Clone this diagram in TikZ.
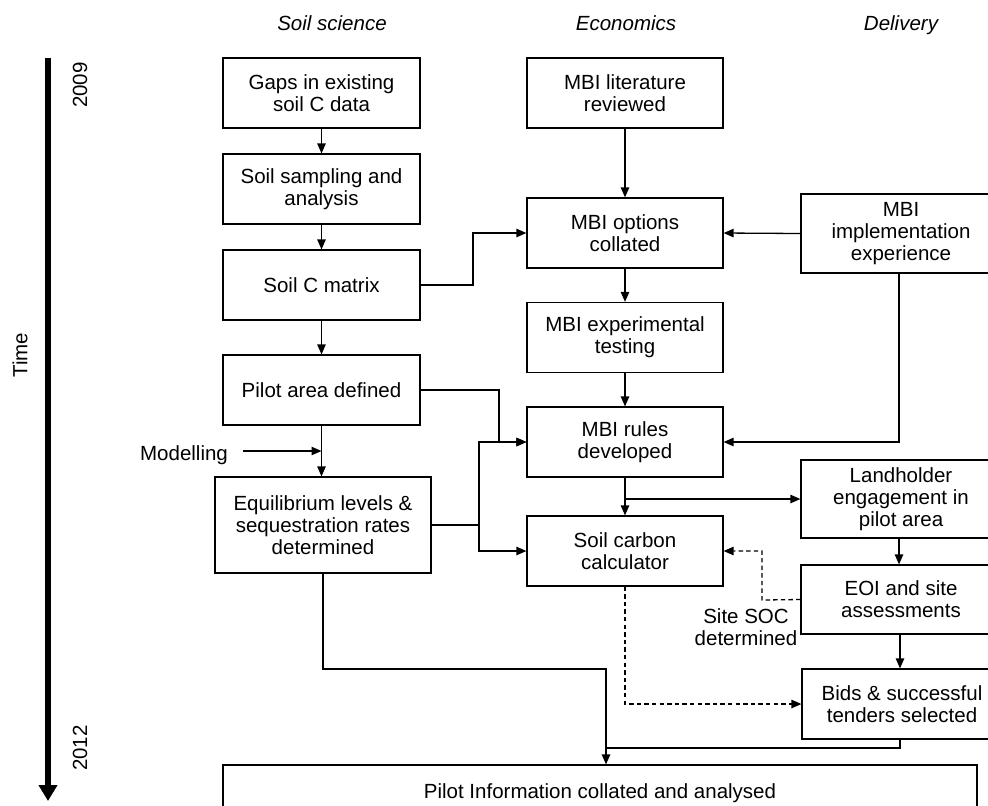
\documentclass[tikz,border=0pt]{standalone}
\usepackage{fontspec}
\setmainfont{Liberation Sans}
\usetikzlibrary{arrows.meta}
\begin{document}
\begin{tikzpicture}[x=0.5pt,y=-0.5pt,
  every node/.style={font=\fontsize{10.25}{11}\selectfont},
  box/.style={draw,line width=0.6pt,align=center,inner sep=0pt,minimum width=98.5pt,minimum height=35pt},
  head/.style={font=\fontsize{10.25}{11}\selectfont\itshape,anchor=base,inner sep=0pt},
  lbl/.style={align=center,inner sep=0pt},
  conn/.style={line width=0.65pt},
  arr/.style={line width=0.65pt,-{Triangle[length=5pt,width=4.2pt]}},
  darr/.style={line width=0.65pt,dash pattern=on 2.2pt off 1.6pt,-{Triangle[length=5pt,width=4.2pt]}}]
\useasboundingbox (0,0) rectangle (988,805);
\clip (0,0) rectangle (988,805);

% headers
\node[head] (hsoil) at (332,30.5) {Soil science};
\node[head] (hecon) at (626,30.5) {Economics};
\node[head] (hdel) at (901,30.5) {Delivery};

% timeline
\coordinate (t0) at (48,58);
\coordinate (t1) at (48,801);
\draw[line width=3pt,-{Triangle[length=8pt,width=9pt]}] (t0) -- (t1);
\node[rotate=90,lbl] (y2009) at (80,85) {2009};
\node[rotate=90,lbl] (y2012) at (80,748) {2012};
\node[rotate=90,lbl] (time) at (20,355) {Time};

% soil science column
\node[box] (gaps) at (321.5,93) {Gaps in existing\\soil C data};
\node[box] (samp) at (321.5,189) {Soil sampling and\\analysis};
\node[box] (matrix) at (321.5,285) {Soil C matrix};
\node[box] (parea) at (321.5,390) {Pilot area defined};
\node[box,minimum width=108pt,minimum height=48pt] (equil) at (323,525) {Equilibrium levels \&\\sequestration rates\\determined};

% economics column
\node[box,minimum width=98pt] (lit) at (625,93) {MBI literature\\reviewed};
\node[box,minimum width=98pt] (opt) at (625,233) {MBI options\\collated};
\node[box,minimum width=98pt] (exp) at (625,337.5) {MBI experimental\\testing};
\node[box,minimum width=98pt] (rules) at (625,442) {MBI rules\\developed};
\node[box,minimum width=98pt] (calc) at (625,551) {Soil carbon\\calculator};

% delivery column
\node[box,minimum width=100pt,minimum height=39.5pt] (impl) at (901,233.5) {MBI\\implementation\\experience};
\node[box,minimum width=100pt,minimum height=39pt] (land) at (901,499) {Landholder\\engagement in\\pilot area};
\node[box,minimum width=100pt,minimum height=34.5pt] (eoi) at (901,599.5) {EOI and site\\assessments};
\node[box,minimum width=100pt,minimum height=35pt] (bids) at (902,704) {Bids \& successful\\tenders selected};

% bottom
\node[box,minimum width=377pt,minimum height=28pt] (pinfo) at (600,793) {Pilot Information collated and analysed};

% labels
\node[lbl] (model) at (184,455) {Modelling};
\node[lbl] (soc) at (746,627) {Site SOC\\determined};

% soil science connectors
\draw[arr] (gaps) -- (samp);
\draw[arr] (samp) -- (matrix);
\draw[arr] (matrix) -- (parea);
\draw[arr] (parea.south) -- (parea.south |- equil.north);
\coordinate (ms) at (243,451);
\coordinate (me) at (321.5,451);
\draw[arr] (ms) -- (me);

% cross connectors
\coordinate (jm) at (473,285);
\draw[arr] (matrix.east) -- (jm) |- (opt.west);
\coordinate (jp) at (499,442);
\draw[arr] (parea.east) -| (jp) -- (rules.west);
\coordinate (je) at (479,525);
\draw[conn] (equil.east) -- (je);
\draw[arr] (je) |- (rules.west);
\draw[arr] (je) |- (calc.west);

% economics connectors
\draw[arr] (lit) -- (opt);
\draw[arr] (opt) -- (exp);
\draw[arr] (exp) -- (rules);
\draw[arr] (rules) -- (calc);
\draw[arr] (impl.west) -- (opt.east);
\coordinate (ji) at (899,273);
\draw[arr] (ji) |- (rules.east);
\coordinate (jr) at (625,499);
\draw[arr] (jr) -- (land.west);

% delivery connectors
\coordinate (jl) at (899,538);
\draw[arr] (jl) -- (jl |- eoi.north);
\coordinate (jo) at (900,634);
\draw[arr] (jo) -- (jo |- bids.north);
\coordinate (jd) at (762,600);
\draw[darr] (eoi.west) -- (jd) |- (calc.east);
\draw[darr] (calc.south) |- (bids.west);

% to pilot information
\coordinate (jq) at (606,669);
\coordinate (jb) at (606,748);
\coordinate (jbs) at (900,739);
\draw[arr] (equil.south) |- (jq) -- (jq |- pinfo.north);
\draw[conn] (jbs) |- (jb);
\end{tikzpicture}
\end{document}
